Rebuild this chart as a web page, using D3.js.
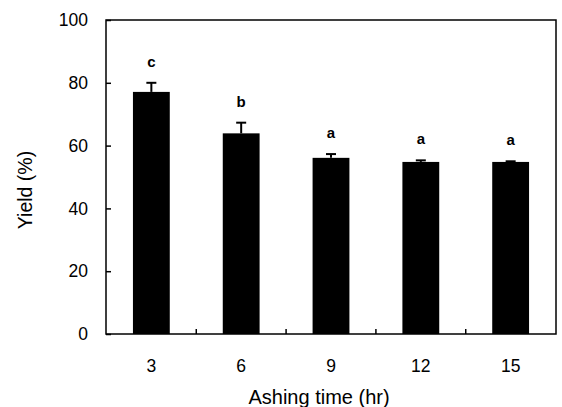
<!DOCTYPE html>
<html>
<head>
<meta charset="utf-8">
<script src="https://cdn.jsdelivr.net/npm/d3@7"></script>
<style>
  body { margin: 0; background: #fff; }
  text { font-family: "Liberation Sans", Arial, sans-serif; fill: #000; }
</style>
</head>
<body>
<div id="chart"></div>
<script>
let width = 562, height = 407
let margin = { top: 20, right: 6, bottom: 73, left: 106 }

// DATA
let hours = ['3', '6', '9', '12', '15']
let yieldMean = [77.1, 63.9, 56.1, 54.8, 54.8]
let yieldErr = [2.9, 3.4, 1.2, 0.5, 0.2]
let groups = ['c', 'b', 'a', 'a', 'a']
let yTicks = [0, 20, 40, 60, 80, 100]

let innerW = width - margin.left - margin.right
let innerH = height - margin.top - margin.bottom

let x = d3.scaleBand()
  .domain(hours)
  .range([0, innerW])
  .paddingInner(0.59)
  .paddingOuter(0.3)

let y = d3.scaleLinear()
  .domain([0, 100])
  .range([innerH, 0])

let svg = d3.select('#chart')
  .append('svg')
  .attr('width', width)
  .attr('height', height)

let g = svg.append('g')
  .attr('transform', 'translate(' + margin.left + ',' + margin.top + ')')

let data = hours.map((h, i) => ({ h: h, v: yieldMean[i], e: yieldErr[i], grp: groups[i] }))

// BARS
g.selectAll('.bar')
  .data(data)
  .enter().append('rect')
  .attr('class', 'bar')
  .attr('x', d => x(d.h))
  .attr('width', x.bandwidth())
  .attr('y', d => y(d.v))
  .attr('height', d => innerH - y(d.v))
  .style('fill', '#000')

// ERROR BARS (upper only)
let err = g.selectAll('.err')
  .data(data)
  .enter().append('g')
  .attr('class', 'err')
  .attr('transform', d => 'translate(' + (x(d.h) + x.bandwidth() / 2) + ',0)')

err.append('line')
  .attr('x1', 0).attr('x2', 0)
  .attr('y1', d => y(d.v))
  .attr('y2', d => y(d.v + d.e))
  .style('stroke', '#000')
  .style('stroke-width', 2)

err.append('line')
  .attr('x1', -5).attr('x2', 5)
  .attr('y1', d => y(d.v + d.e))
  .attr('y2', d => y(d.v + d.e))
  .style('stroke', '#000')
  .style('stroke-width', 2)

// SIGNIFICANCE LETTERS
err.append('text')
  .attr('x', 0)
  .attr('y', d => y(d.v + d.e) - 16)
  .style('text-anchor', 'middle')
  .style('font-size', '15px')
  .style('font-weight', 'bold')
  .text(d => d.grp)

// AXES
let yAxis = g.append('g')
  .call(d3.axisLeft(y).tickValues(yTicks).tickSize(-5).tickPadding(18))
yAxis.selectAll('text').style('font-size', '17.5px')

// x ticks sit between the bars
let xAxis = g.append('g')
  .attr('transform', 'translate(0,' + innerH + ')')
  .call(d3.axisBottom(x).tickSize(0).tickPadding(26))
xAxis.selectAll('text').style('font-size', '17.5px')

let gaps = hours.slice(1).map(h => x(h) - x.step() * x.paddingInner() / 2)
g.selectAll('.gap-tick')
  .data(gaps)
  .enter().append('line')
  .attr('x1', d => d).attr('x2', d => d)
  .attr('y1', innerH).attr('y2', innerH - 5)
  .style('stroke', '#000')
  .style('stroke-width', 1.5)

g.selectAll('.domain').remove()
g.selectAll('.tick line').style('stroke', '#000').style('stroke-width', 1.5)

// FRAME
g.append('rect')
  .attr('width', innerW)
  .attr('height', innerH)
  .style('fill', 'none')
  .style('stroke', '#000')
  .style('stroke-width', 1.5)

// TITLES
svg.append('text')
  .attr('x', 319)
  .attr('y', 404)
  .style('text-anchor', 'middle')
  .style('font-size', '20px')
  .text('Ashing time (hr)')

svg.append('text')
  .attr('transform', 'translate(32,190) rotate(-90)')
  .style('text-anchor', 'middle')
  .style('font-size', '19.5px')
  .text('Yield (%)')
</script>
</body>
</html>
